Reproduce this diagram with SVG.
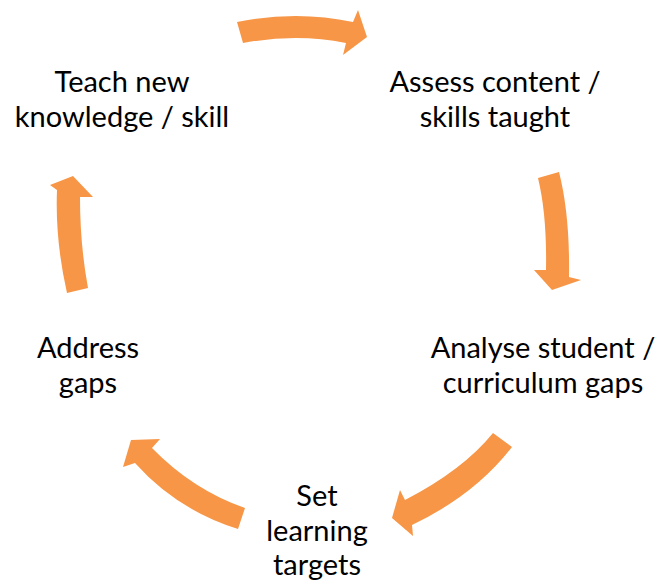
<svg xmlns="http://www.w3.org/2000/svg" width="659" height="581" viewBox="0 0 659 581">
<style>
.arr{fill:#F79646;stroke:none}
.t{font-family:Lato,"Liberation Sans",sans-serif;font-size:29px;fill:#000;text-anchor:middle}
</style>
<rect width="659" height="581" fill="#fff"/>
<g id="connectors">
<path class="arr" d="M237,22 Q297,10 353,22 L358,10 L367,37 L343,55 L346,43 Q297,33 243,43 Z"/>
<path class="arr" d="M538,178 L559,172 Q570,215 569,277 L581,280 L552,290 L534,270 L546,270 Q547,215 538,178 Z"/>
<path class="arr" d="M493,433 L512,447 Q475,495 412,525 L413,536 L392,518 L400,490 L405,500 Q463,470 493,433 Z"/>
<path class="arr" d="M245,508 Q193,490 152,448 L160,439 L131,440 L123,467 L135,463 Q177,510 238,529 Z"/>
<path class="arr" d="M67,293 Q55,240 57,190 L50,185 L73,176 L93,197 L80,197 Q80,245 88,288 Z"/>
</g>
<g id="node-teach"><text class="t" x="122" y="92">Teach new</text><text class="t" x="122" y="127">knowledge / skill</text></g>
<g id="node-assess"><text class="t" x="495" y="92">Assess content /</text><text class="t" x="495" y="127">skills taught</text></g>
<g id="node-analyse"><text class="t" x="543" y="358">Analyse student /</text><text class="t" x="543" y="393">curriculum gaps</text></g>
<g id="node-set"><text class="t" x="317" y="506">Set</text><text class="t" x="317" y="541">learning</text><text class="t" x="317" y="575">targets</text></g>
<g id="node-address"><text class="t" x="88" y="358">Address</text><text class="t" x="88" y="393">gaps</text></g>
</svg>
